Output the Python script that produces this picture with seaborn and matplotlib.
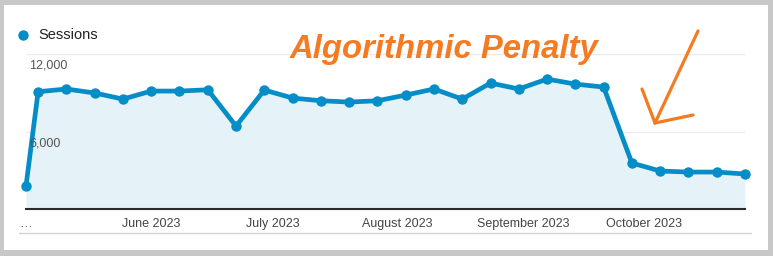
import matplotlib
matplotlib.use("Agg")
import matplotlib.pyplot as plt
from matplotlib.patches import Rectangle
from matplotlib.lines import Line2D
import pandas as pd
import seaborn as sns

# ---- data ----
dates = ["2023-05-01", "2023-05-04", "2023-05-11", "2023-05-18", "2023-05-25",
         "2023-06-01", "2023-06-08", "2023-06-15", "2023-06-22", "2023-06-29",
         "2023-07-06", "2023-07-13", "2023-07-20", "2023-07-27", "2023-08-03",
         "2023-08-10", "2023-08-17", "2023-08-24", "2023-08-31", "2023-09-07",
         "2023-09-14", "2023-09-21", "2023-09-28", "2023-10-05", "2023-10-12",
         "2023-10-19", "2023-10-26"]
sessions = [1780, 9080, 9290, 8980, 8510, 9130, 9130, 9230, 6420, 9210,
            8590, 8380, 8280, 8380, 8820, 9290, 8510, 9750, 9290, 10060,
            9670, 9440, 3560, 2940, 2860, 2860, 2710]
y_ticks = [6000, 12000]
y_tick_labels = ["6,000", "12,000"]
x_tick_dates = ["2023-05-01", "2023-06-01", "2023-07-01", "2023-08-01",
                "2023-09-01", "2023-10-01"]
x_tick_labels = ["…", "June 2023", "July 2023", "August 2023",
                 "September 2023", "October 2023"]
series_name = "Sessions"
title = "Algorithmic Penalty"

df = pd.DataFrame({"date": pd.to_datetime(dates), "sessions": sessions})

sns.set_style("white")
plt.rcParams["font.family"] = ["Liberation Sans", "DejaVu Sans"]

W, H = 773, 256
def fx(x): return x / W
def fy(y): return 1 - y / H

BLUE = "#058dc7"
FILL = "#e5f3f9"
ORANGE = "#f57b22"

fig = plt.figure(figsize=(W / 100, H / 100), dpi=100, facecolor="#c8c8c8")
fig.add_artist(Rectangle((fx(4), fy(250)), (768 - 4) / W, (250 - 5) / H,
                         transform=fig.transFigure, facecolor="white",
                         edgecolor="none", zorder=-5))

ax = fig.add_axes([fx(26), fy(209), (745 - 26) / W, (209 - 54) / H])
ax.set_facecolor("none")

ax.fill_between(df["date"], df["sessions"], 0, color=FILL, lw=0, zorder=1)
sns.lineplot(data=df, x="date", y="sessions", ax=ax, color=BLUE, lw=3.4,
             marker="o", markersize=7.5, markeredgewidth=0, clip_on=False,
             zorder=3)

ax.set_xlim(df["date"].iloc[0], df["date"].iloc[-1])
ax.set_ylim(0, 12000)
ax.set_xlabel("")
ax.set_ylabel("")

for s in ["top", "left", "right"]:
    ax.spines[s].set_visible(False)
ax.spines["bottom"].set_color("#2b2b2b")
ax.spines["bottom"].set_linewidth(1.5)
ax.spines["bottom"].set_zorder(4)

ax.set_yticks(y_ticks)
ax.yaxis.grid(True, color="#ececec", lw=1)
ax.tick_params(axis="y", length=0, labelleft=False)
for v, lab in zip(y_ticks, y_tick_labels):
    ax.annotate(lab, xy=(0, v), xycoords=("axes fraction", "data"),
                xytext=(2.5, -8.3), textcoords="offset points",
                ha="left", va="center", fontsize=9, color="#555555",
                zorder=6)

ax.set_xticks(pd.to_datetime(x_tick_dates))
ax.set_xticklabels(x_tick_labels, fontsize=9, color="#444444")
ax.tick_params(axis="x", length=0, pad=6.5)

# legend
fig.add_artist(Line2D([fx(23)], [fy(35)], marker="o", markersize=7.5,
                      color=BLUE, markeredgewidth=0, transform=fig.transFigure))
fig.text(fx(38), fy(35), series_name, va="center", ha="left",
         fontsize=10.5, color="#222222")

# title annotation
fig.text(fx(290), fy(58), title, fontsize=23.7, fontweight="bold",
         fontstyle="italic", color=ORANGE, va="baseline", ha="left")

# hand-drawn arrow
for (x0, y0), (x1, y1) in [((698, 31), (655, 123)),
                           ((642, 89), (655, 123)),
                           ((655, 123), (693, 115))]:
    fig.add_artist(Line2D([fx(x0), fx(x1)], [fy(y0), fy(y1)], lw=2.3,
                          color=ORANGE, solid_capstyle="round",
                          transform=fig.transFigure))

# bottom separator
fig.add_artist(Line2D([fx(19), fx(751)], [fy(233), fy(233)], lw=1,
                      color="#d4d4d4", transform=fig.transFigure))

fig.savefig("out.png", dpi=100, facecolor=fig.get_facecolor())
